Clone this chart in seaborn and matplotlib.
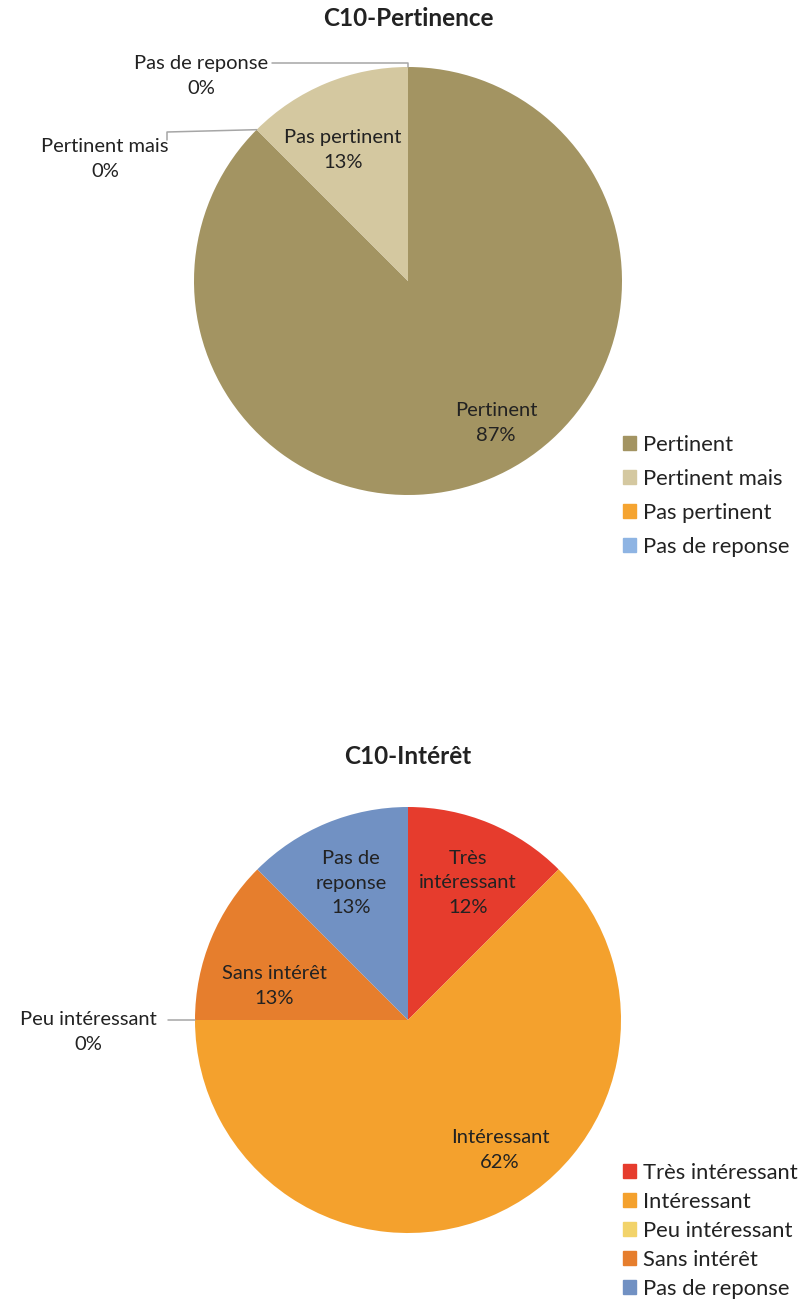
import numpy as np
import matplotlib
matplotlib.use("Agg")
import matplotlib.pyplot as plt
from matplotlib.patches import Patch
import seaborn as sns

W, H = 798, 1308

# --- C10-Pertinence ---
pert_cats = ["Pertinent", "Pertinent mais", "Pas pertinent", "Pas de reponse"]
pert_counts = [7, 0, 1, 0]
pert_pct = ["87%", "0%", "13%", "0%"]
pert_slice_cols = ["#A39462", "#D4C8A0", "#D4C8A0", "#8EB4E3"]
pert_legend_cols = ["#A39462", "#D4C8A0", "#F5A431", "#8EB4E3"]

# --- C10-Intérêt ---
int_cats = ["Très intéressant", "Intéressant", "Peu intéressant", "Sans intérêt", "Pas de reponse"]
int_counts = [1, 5, 0, 1, 1]
int_pct = ["12%", "62%", "0%", "13%", "13%"]
int_cols = ["#E63C2D", "#F4A12D", "#F2D36A", "#E67E2D", "#7191C3"]
int_inside = ["Très\nintéressant", "Intéressant", "Peu intéressant", "Sans intérêt", "Pas de\nreponse"]

TXT = "#222222"
LINE = "#A6A6A6"

sns.set_theme(style="white")
plt.rcParams["font.family"] = ["Lato", "DejaVu Sans"]

# label placement (pixel layout, like Excel's best-fit labels)
pert_layout = {0: (496, 423), 1: ((105, 159), [(167, 140), (167, 132)]),
               2: (343, 150), 3: ((201, 76), [(272, 63), (408, 63)])}
int_layout = {0: (468, 883), 1: (500, 1150), 2: ((88, 1032), [(168, 1020)]),
              3: (274, 986), 4: (351, 883)}


def px2d(p, cx, cy, r):
    return ((p[0] - cx) / r, (cy - p[1]) / r)


def draw_pie(fig, cx, cy, r, counts, cols, inside, pcts, layout):
    ax = fig.add_axes([(cx - r) / W, (H - cy - r) / H, 2 * r / W, 2 * r / H])
    ax.axis("off")
    wedges, _ = ax.pie(counts, colors=cols, startangle=90, counterclock=False,
                       radius=1, wedgeprops=dict(linewidth=0))
    ax.set_xlim(-1, 1)
    ax.set_ylim(-1, 1)
    ax.set_aspect("equal")
    for i, w in enumerate(wedges):
        txt = f"{inside[i]}\n{pcts[i]}"
        if counts[i] > 0:
            lx, ly = px2d(layout[i], cx, cy, r)
        else:
            lab_pos, pts = layout[i]
            th = np.deg2rad(w.theta1)
            rim = (np.cos(th), np.sin(th))
            path = [px2d(p, cx, cy, r) for p in pts] + [rim]
            xs, ys = zip(*path)
            ax.plot(xs, ys, color=LINE, lw=1.1, clip_on=False)
            lx, ly = px2d(lab_pos, cx, cy, r)
        ax.text(lx, ly, txt, ha="center", va="center", fontsize=14.5, color=TXT,
                multialignment="center", linespacing=1.55, clip_on=False)
    return ax


fig = plt.figure(figsize=(W / 100, H / 100), dpi=100)

# top chart
fig.text(408 / W, 1 - 19 / H, "C10-Pertinence", ha="center", va="center",
         fontsize=17.5, fontweight="bold", color=TXT)
draw_pie(fig, 408, 281, 214, pert_counts, pert_slice_cols, pert_cats, pert_pct, pert_layout)
fig.legend(handles=[Patch(color=c, label=l) for c, l in zip(pert_legend_cols, pert_cats)],
           loc="upper left", bbox_to_anchor=(612 / W, 1 - 424 / H), frameon=False,
           fontsize=15.8, handlelength=0.6, handleheight=0.6, handletextpad=0.3,
           labelspacing=0.64, labelcolor=TXT, borderpad=0)

# bottom chart
fig.text(408 / W, 1 - 757 / H, "C10-Intérêt", ha="center", va="center",
         fontsize=17.5, fontweight="bold", color=TXT)
draw_pie(fig, 408, 1020, 213, int_counts, int_cols, int_inside, int_pct, int_layout)
fig.legend(handles=[Patch(color=c, label=l) for c, l in zip(int_cols, int_cats)],
           loc="upper left", bbox_to_anchor=(612 / W, 1 - 1152 / H), frameon=False,
           fontsize=15.8, handlelength=0.6, handleheight=0.6, handletextpad=0.3,
           labelspacing=0.41, labelcolor=TXT, borderpad=0)

fig.savefig("out.png", dpi=100, facecolor="white")
